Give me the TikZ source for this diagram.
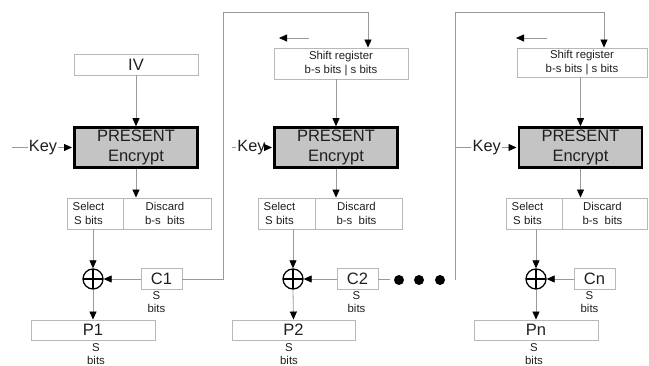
\documentclass[tikz,border=0pt]{standalone}
\usepackage{fontspec}
\setmainfont{Liberation Sans}
\usetikzlibrary{arrows.meta}
\definecolor{linec}{gray}{0.6}
\definecolor{boxc}{gray}{0.72}
\definecolor{encfill}{gray}{0.77}
\definecolor{txt}{gray}{0.12}
\begin{document}
\begin{tikzpicture}[x=1pt,y=-1pt,
  box/.style={draw=boxc, line width=0.9pt, inner sep=0pt, text=txt},
  big/.style={font=\fontsize{16.5}{20}\selectfont, text=txt},
  small/.style={font=\fontsize{11.4}{13.5}\selectfont, text=txt, inner sep=0pt},
  enc/.style={draw=black, line width=2.6pt, fill=encfill, inner sep=0pt, align=center,
    font=\fontsize{16.5}{20.5}\selectfont, text=txt, minimum width=123pt, minimum height=40pt},
  conn/.style={draw=linec, line width=0.8pt},
  arr/.style={conn, -{Triangle[length=8pt,width=7pt,color=black]}},
  xor/.style={circle, draw=black, line width=1.3pt, minimum size=20pt, inner sep=0pt,
    path picture={\draw[black,line width=1.3pt] (path picture bounding box.north) -- (path picture bounding box.south)
      (path picture bounding box.west) -- (path picture bounding box.east);}},
  keyt/.style={font=\fontsize{16.3}{20}\selectfont, text=txt, inner sep=1pt},
  dot/.style={circle, fill=black, inner sep=0pt, minimum size=10pt}
]
\useasboundingbox (0,0) rectangle (649,366);

% ---------------- column 1
\node[box, big, minimum width=124pt, minimum height=21pt] (iv) at (136,64.5) {IV};
\node[enc] (e1) at (136,147.5) {PRESENT\\Encrypt};
\node[keyt] (k1) at (43,147.5) {Key};
\coordinate (k1s) at (12,147.5);
\node[box, minimum width=56pt, minimum height=31pt] (s1) at (95,213.5) {};
\node[box, minimum width=88pt, minimum height=31pt] (d1) at (167,213.5) {};
\node[small, align=center] (s1t) at (88.5,213.5) {Select\\S bits};
\node[small, align=center] (d1t) at (165,213.5) {Discard\\b-s\ \ bits};
\node[xor] (x1) at (93,279) {};
\node[box, big, minimum width=41pt, minimum height=21pt] (c1) at (161.5,279) {C1};
\node[small, align=center] (c1l) at (156.5,302) {S\\bits};
\node[box, big, minimum width=124pt, minimum height=20pt] (p1) at (93,330) {P1};
\node[small, align=center] (p1l) at (96,354) {S\\bits};

\draw[arr] (iv) -- (e1.north) ;
\draw[conn] (k1s) -- (k1.west);
\draw[arr, shorten >=1.2pt] (k1.east) -- (e1.west);
\draw[arr] (e1.south) -- (e1.south |- d1.north);
\draw[arr] (s1.south -| x1) -- (x1.north);
\draw[arr] (c1.west) -- (x1.east);
\draw[arr] (x1.south) -- (p1.north);

% ---------------- column 2
\node[box, small, align=center, minimum width=134pt, minimum height=31pt] (sr2) at (341,63.5) {Shift register\\b-s bits | s bits};
\coordinate (la2s) at (309,38);
\coordinate (la2e) at (279,38);
\node[enc] (e2) at (336,147.5) {PRESENT\\Encrypt};
\node[keyt] (k2) at (251.5,147.5) {Key};
\coordinate (k2s) at (232,147.5);
\node[box, minimum width=57pt, minimum height=31pt] (s2) at (286.5,213.5) {};
\node[box, minimum width=87pt, minimum height=31pt] (d2) at (358.5,213.5) {};
\node[small, align=center] (s2t) at (279.5,213.5) {Select\\S bits};
\node[small, align=center] (d2t) at (356.5,213.5) {Discard\\b-s\ \ bits};
\node[xor] (x2) at (293,279) {};
\node[box, big, minimum width=41pt, minimum height=21pt] (c2) at (357.5,279) {C2};
\node[small, align=center] (c2l) at (356.5,302) {S\\bits};
\node[box, big, minimum width=123pt, minimum height=20pt] (p2) at (293.5,330) {P2};
\node[small, align=center] (p2l) at (289,354) {S\\bits};
\coordinate (c2e) at (390,279);
\node[dot] (dt1) at (399,280) {};
\node[dot] (dt2) at (419,280) {};
\node[dot] (dt3) at (440,280) {};

\coordinate (l2a) at (223,279);
\coordinate (l2b) at (223,12);
\coordinate (l2c) at (368,12);
\draw[arr] (c1.east) -- (l2a) -- (l2b) -- (l2c) -- (l2c |- sr2.north);
\draw[arr] (la2s) -- (la2e);
\draw[arr] (sr2.south -| e2) -- (e2.north);
\draw[conn] (k2s) -- (k2.west);
\draw[arr, shorten >=1.2pt] (k2.east) -- (e2.west);
\draw[arr] (e2.south) -- (e2.south |- d2.north);
\draw[arr] (s2.south -| x2) -- (x2.north);
\draw[arr] (c2.west) -- (x2.east);
\draw[arr] (x2.south) -- (p2.north);
\draw[conn] (c2.east) -- (c2e);

% ---------------- column 3
\node[box, small, align=center, minimum width=130pt, minimum height=29pt] (sr3) at (582,62.5) {Shift register\\b-s bits | s bits};
\coordinate (la3s) at (547,38);
\coordinate (la3e) at (516,38);
\node[enc] (e3) at (580.5,147.5) {PRESENT\\Encrypt};
\node[keyt] (k3) at (486.7,147.5) {Key};
\coordinate (k3s) at (455,147.5);
\node[box, minimum width=56pt, minimum height=31pt] (s3) at (534,213.5) {};
\node[box, minimum width=85pt, minimum height=31pt] (d3) at (604.5,213.5) {};
\node[small, align=center] (s3t) at (527.5,213.5) {Select\\S bits};
\node[small, align=center] (d3t) at (602.5,213.5) {Discard\\b-s\ \ bits};
\node[xor] (x3) at (536,279) {};
\node[box, big, minimum width=41pt, minimum height=21pt] (cn) at (594.5,279) {Cn};
\node[small, align=center] (cnl) at (589.5,302) {S\\bits};
\node[box, big, minimum width=124pt, minimum height=20pt] (pn) at (536,330) {Pn};
\node[small, align=center] (pnl) at (534,354) {S\\bits};

\coordinate (l3a) at (455,280);
\coordinate (l3b) at (455,12);
\coordinate (l3c) at (604,12);
\draw[arr] (l3a) -- (l3b) -- (l3c) -- (l3c |- sr3.north);
\draw[arr] (la3s) -- (la3e);
\draw[arr] (sr3.south -| e3) -- (e3.north);
\draw[conn] (k3s) -- (k3.west);
\draw[arr, shorten >=1.2pt] (k3.east) -- (e3.west);
\draw[arr] (e3.south) -- (e3.south |- d3.north);
\draw[arr] (s3.south -| x3) -- (x3.north);
\draw[arr] (cn.west) -- (x3.east);
\draw[arr] (x3.south) -- (pn.north);
\end{tikzpicture}
\end{document}
